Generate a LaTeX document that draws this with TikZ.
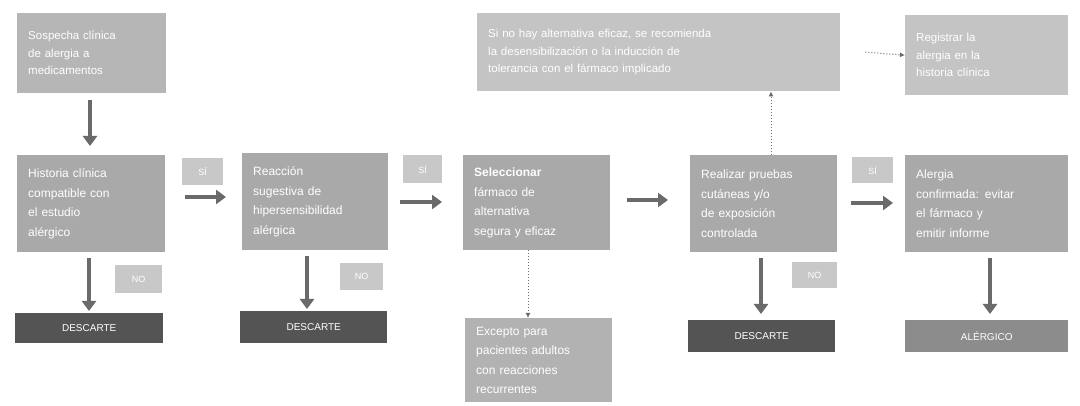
\documentclass[tikz,border=0pt]{standalone}
\usepackage{fontspec}
\setmainfont{Liberation Sans}
\usetikzlibrary{arrows.meta}
\definecolor{boxg}{HTML}{A9A9A9}
\definecolor{topg}{HTML}{C4C4C4}
\definecolor{darkg}{HTML}{545454}
\definecolor{midg}{HTML}{8C8C8C}
\definecolor{labg}{HTML}{C8C8C8}
\definecolor{arrg}{HTML}{6A6A6A}
\tikzset{
  stepbox/.style={draw=none, fill=boxg, text=white, align=left, anchor=north west,
    inner xsep=11pt, inner ysep=4pt, font=\fontsize{12}{19.5}\selectfont},
  topbox/.style={stepbox, fill=topg, font=\fontsize{11.5}{17.5}\selectfont},
  endbox/.style={draw=none, fill=darkg, text=white, font=\fontsize{10}{11}\selectfont, anchor=north west},
  lab/.style={draw=none, fill=labg, text=white, font=\fontsize{9}{10}\selectfont, anchor=north west},
  bigarrow/.style={draw=arrg, line width=4pt, -{Triangle[length=10pt,width=14pt]}},
  dotarrow/.style={draw=arrg, line width=1pt, dotted, -{Latex[length=5pt,width=5pt]}}
}
\begin{document}
\begin{tikzpicture}[x=1pt,y=-1pt]
\useasboundingbox[fill=white] (0,0) rectangle (1080,406);
% top boxes
\node[topbox, text width=127pt, minimum height=80pt, fill=boxg!85] (t0) at (17,13) {Sospecha clínica\\de alergia a\\medicamentos};
\node[topbox, text width=341pt, minimum height=78pt] (tw) at (477,13) {Si no hay alternativa eficaz, se recomienda\\la desensibilización o la inducción de\\tolerancia con el fármaco implicado};
\node[topbox, text width=141pt, minimum height=80pt] (tr) at (905,15) {Registrar la\\alergia en la\\historia clínica};
% row boxes
\node[stepbox, text width=126pt, minimum height=97pt] (b1) at (17,155) {Historia clínica\\compatible con\\el estudio\\alérgico};
\node[stepbox, text width=124pt, minimum height=97pt] (b2) at (242,153) {Reacción\\sugestiva de\\hipersensibilidad\\alérgica};
\node[stepbox, text width=125pt, minimum height=95pt] (b3) at (463,155) {\textbf{Seleccionar}\\fármaco de\\alternativa\\segura y eficaz};
\node[stepbox, text width=125pt, minimum height=97pt] (b4) at (690,155) {Realizar pruebas\\cutáneas y/o\\de exposición\\controlada};
\node[stepbox, text width=141pt, minimum height=97pt] (b5) at (905,155) {Alergia\\confirmada: evitar\\el fármaco y\\emitir informe};
% bottom
\node[endbox, minimum width=148pt, minimum height=30pt] (d1) at (15,313) {DESCARTE};
\node[endbox, minimum width=147pt, minimum height=32pt] (d2) at (240,311) {DESCARTE};
\node[endbox, minimum width=147pt, minimum height=32pt] (d3) at (688,320) {DESCARTE};
\node[endbox, fill=midg, minimum width=163pt, minimum height=32pt] (d4) at (905,320) {ALÉRGICO};
\node[stepbox, fill=boxg!90, text width=125pt, minimum height=84pt, inner ysep=2pt] (b6) at (465,318) {Excepto para\\pacientes adultos\\con reacciones\\recurrentes};
% labels
\node[lab, minimum width=41pt, minimum height=27pt] (l1) at (182,158) {SÍ};
\node[lab, minimum width=39pt, minimum height=28pt] (l2) at (403,155) {SÍ};
\node[lab, minimum width=41pt, minimum height=26pt] (l4) at (852,157) {SÍ};
\node[lab, minimum width=47pt, minimum height=28pt] (n1) at (115,265) {NO};
\node[lab, minimum width=43pt, minimum height=27pt] (n2) at (340,263) {NO};
\node[lab, minimum width=45pt, minimum height=26pt] (n4) at (792,262) {NO};
% arrows
\coordinate (a0s) at (90,100); \coordinate (a0e) at (90,146);
\draw[bigarrow] (a0s) -- (a0e);
\coordinate (h1s) at (185,197); \coordinate (h1e) at (226,197);
\draw[bigarrow] (h1s) -- (h1e);
\coordinate (h2s) at (400,202); \coordinate (h2e) at (442,202);
\draw[bigarrow] (h2s) -- (h2e);
\coordinate (h3s) at (627,200); \coordinate (h3e) at (668,200);
\draw[bigarrow] (h3s) -- (h3e);
\coordinate (h4s) at (851,203); \coordinate (h4e) at (893,203);
\draw[bigarrow] (h4s) -- (h4e);
\draw[bigarrow] ([yshift=-6pt]b1.south -| 89,0) -- ([yshift=2pt]d1.north -| 89,0);
\draw[bigarrow] ([yshift=-6pt]b2.south -| 307,0) -- ([yshift=2pt]d2.north -| 307,0);
\draw[bigarrow] ([yshift=-6pt]b4.south -| 761,0) -- ([yshift=6pt]d3.north -| 761,0);
\draw[bigarrow] ([yshift=-6pt]b5.south -| 990,0) -- ([yshift=6pt]d4.north -| 990,0);
\draw[dotarrow] (b3.south -| 528,0) -- (b6.north -| 528,0);
\draw[dotarrow] (b4.north -| 771,0) -- (tw.south -| 771,0);
\draw[dotarrow] (tw.east) ++(25,0) -- (tr.west);
\end{tikzpicture}
\end{document}
